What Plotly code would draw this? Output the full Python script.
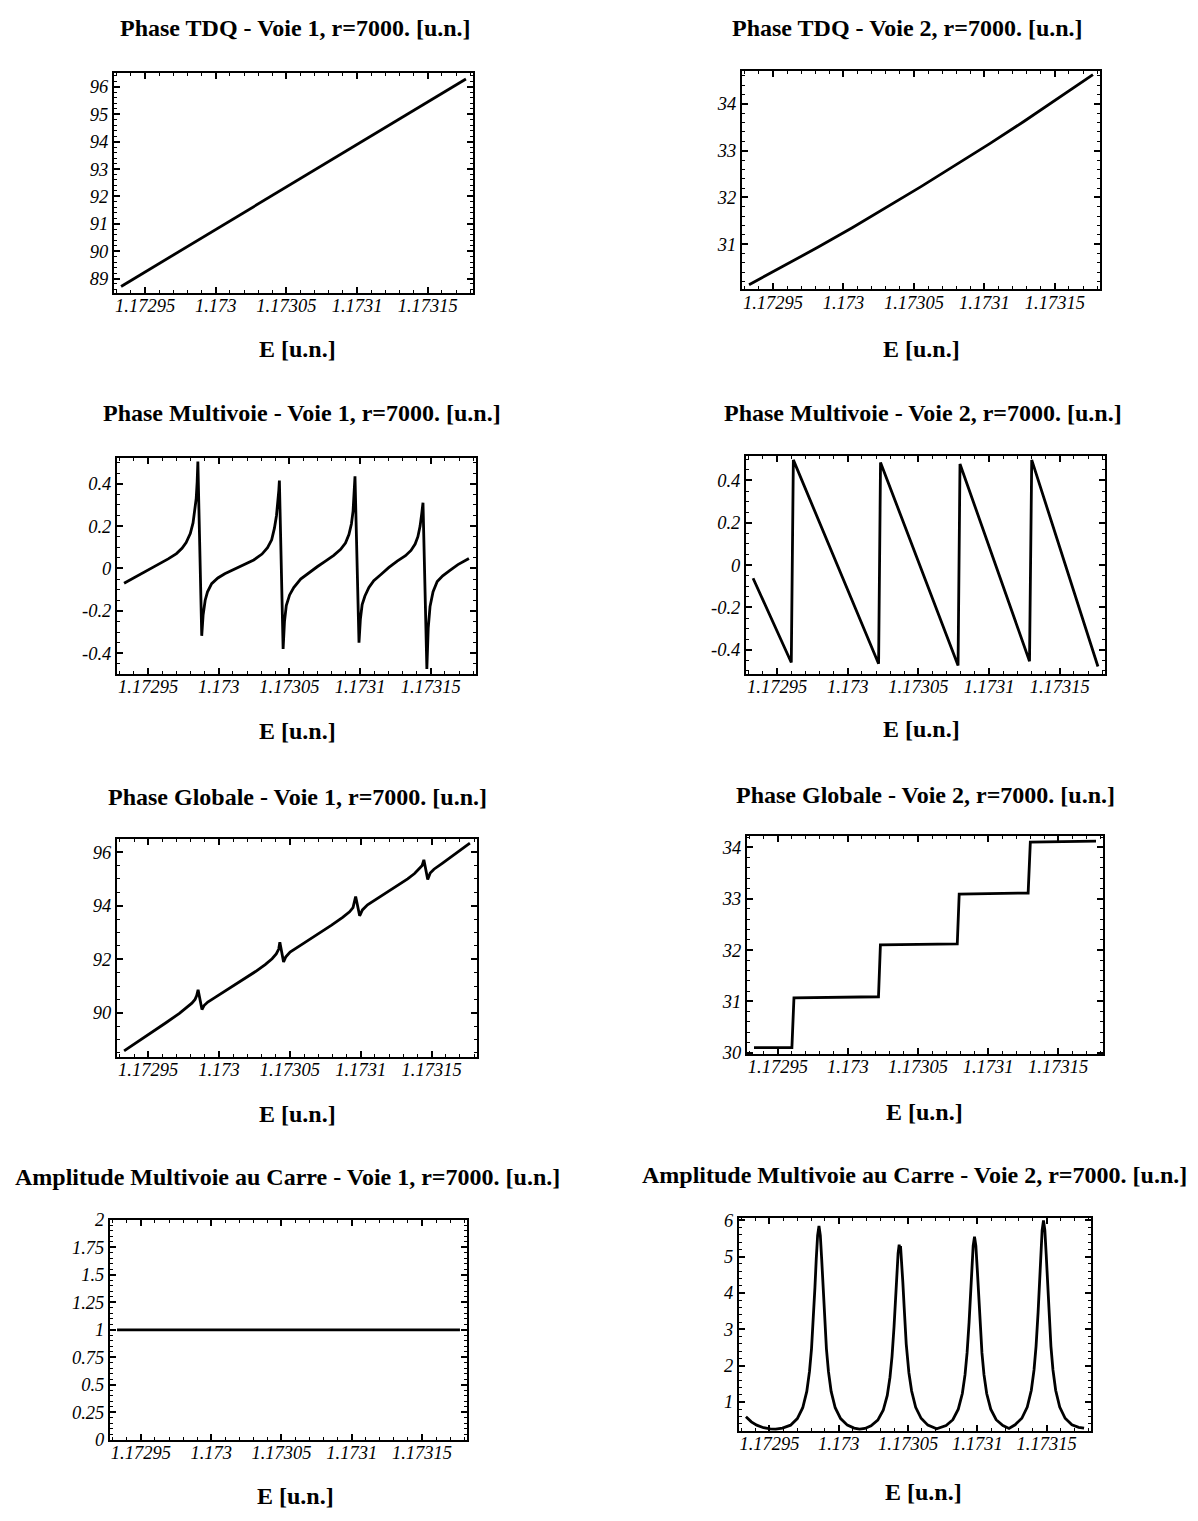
import plotly.graph_objects as go

# ---------------- data ----------------
E_START = 1.172933
E_END = 1.173177
N_STEPS = 250.0          # sample positions k run from 0 to 250 along E
X_RANGE = [1.172928, 1.173182]

X_TICKS = [1.17295, 1.173, 1.17305, 1.1731, 1.17315]
X_TICK_TEXT = ["1.17295", "1.173", "1.17305", "1.1731", "1.17315"]

titles = [
    "Phase TDQ - Voie 1, r=7000. [u.n.]",
    "Phase TDQ - Voie 2, r=7000. [u.n.]",
    "Phase Multivoie - Voie 1, r=7000. [u.n.]",
    "Phase Multivoie - Voie 2, r=7000. [u.n.]",
    "Phase Globale - Voie 1, r=7000. [u.n.]",
    "Phase Globale - Voie 2, r=7000. [u.n.]",
    "Amplitude Multivoie au Carre - Voie 1, r=7000. [u.n.]",
    "Amplitude Multivoie au Carre - Voie 2, r=7000. [u.n.]",
]
x_label = "E [u.n.]"

# Phase TDQ - Voie 1
tdq1_k = [0, 50, 100, 150, 200, 250]
tdq1_v = [88.71, 90.23, 91.74, 93.26, 94.77, 96.29]

# Phase TDQ - Voie 2
tdq2_k = [0, 25, 50, 75, 100, 125, 150, 175, 200, 225, 250]
tdq2_v = [30.13, 30.53, 30.93, 31.35, 31.79, 32.23, 32.69, 33.15, 33.63, 34.13, 34.63]

# Phase Multivoie - Voie 1
mv1_k = [0, 7, 14, 20, 26, 32, 38, 42, 45, 48,
         50, 51.3, 52.3, 53.0, 53.5, 56.3, 57.3, 58.8, 60.5, 63.5,
         68, 73, 80, 87, 94, 100, 104, 107, 109, 110.5,
         111.5, 112.2, 112.6, 115.3, 116.3, 117.6, 120, 123, 128, 134,
         140, 146, 152, 157, 160.5, 163, 164.8, 166, 166.8, 167.4,
         170.3, 171.3, 172.6, 174.6, 177.5, 181, 186, 192, 198, 204,
         208, 211, 213, 214.6, 215.8, 216.7, 219.5, 220.5, 221.8, 224,
         227, 231, 236, 242, 250]
mv1_v = [-0.07, -0.045, -0.016, 0.004, 0.023, 0.045, 0.07, 0.095, 0.122, 0.165,
         0.215, 0.27, 0.33, 0.41, 0.505, -0.318, -0.22, -0.15, -0.11, -0.072,
         -0.045, -0.025, -0.003, 0.018, 0.04, 0.068, 0.098, 0.135, 0.19, 0.25,
         0.31, 0.37, 0.415, -0.38, -0.25, -0.175, -0.125, -0.09, -0.05, -0.02,
         0.008, 0.035, 0.062, 0.09, 0.12, 0.16, 0.21, 0.27, 0.34, 0.435,
         -0.35, -0.24, -0.17, -0.13, -0.09, -0.058, -0.03, 0.005, 0.035, 0.06,
         0.085, 0.115, 0.15, 0.2, 0.26, 0.31, -0.474, -0.28, -0.18, -0.11,
         -0.062, -0.035, -0.01, 0.018, 0.047]

# Phase Multivoie - Voie 2
mv2_k = [0, 27.7, 29.2, 91.0, 92.4, 148.6, 150.0, 200.4, 202.0, 250]
mv2_v = [-0.062, -0.46, 0.497, -0.466, 0.485, -0.474, 0.478, -0.454, 0.497, -0.479]

# Phase Globale - Voie 1
glob1_k = [0, 10, 20, 30, 40, 45, 49, 51.3, 52.5, 53.5,
           56.3, 57.8, 60.5, 65, 75, 85, 95, 102, 107, 110,
           111.8, 112.6, 115.3, 116.8, 120, 130, 140, 150, 158, 163,
           165.5, 167.4, 170.3, 172.3, 176, 185, 195, 205, 210, 213.5,
           215.5, 216.7, 219.5, 221.3, 224, 230, 240, 250]
glob1_v = [88.58, 88.92, 89.27, 89.62, 89.98, 90.18, 90.36, 90.5, 90.64, 90.86,
           90.12, 90.27, 90.40, 90.55, 90.87, 91.2, 91.54, 91.8, 92.02, 92.2,
           92.38, 92.63, 91.9, 92.08, 92.27, 92.6, 92.93, 93.27, 93.56, 93.77,
           93.93, 94.34, 93.62, 93.84, 94.03, 94.33, 94.67, 95.0, 95.2, 95.38,
           95.5, 95.71, 94.98, 95.22, 95.36, 95.58, 95.96, 96.33]

# Phase Globale - Voie 2
glob2_k = [0, 27.7, 29.2, 91.0, 92.4, 148.6, 150.0, 200.4, 202.0, 250]
glob2_v = [30.10, 30.10, 31.07, 31.09, 32.10, 32.12, 33.09, 33.11, 34.10, 34.12]

# Amplitude Multivoie au Carre - Voie 1
amp1_k = [0, 250]
amp1_v = [1.0, 1.0]

# Amplitude Multivoie au Carre - Voie 2
amp2_k = [0, 4, 8, 13, 18, 22, 27, 33, 38, 42,
          45, 47, 48.5, 50, 51, 52, 53, 54, 55, 56,
          57, 58, 59.5, 61, 63, 66, 70, 75, 80, 84,
          88, 92.5, 97.5, 101.5, 104.5, 106.5, 108, 109.5, 110.5, 111.5,
          112.5, 113.3, 113.8, 114.3, 115, 116, 117, 118.5, 120.5, 122.5,
          125.5, 129.5, 134.5, 141, 148, 153, 157, 160, 162, 163.5,
          165, 166, 167, 168, 169, 170, 171, 172, 173, 174.5,
          176, 178, 181, 185, 190, 194.5, 199, 204, 208, 211,
          213, 214.5, 216, 217, 218, 219, 220, 221, 222, 223,
          224, 225.5, 227, 229, 232, 236, 241, 246, 250]
amp2_v = [0.59, 0.45, 0.36, 0.29, 0.26, 0.25, 0.28, 0.36, 0.54, 0.84,
          1.29, 1.84, 2.47, 3.37, 4.14, 4.94, 5.59, 5.85, 5.59, 4.94,
          4.14, 3.37, 2.47, 1.84, 1.29, 0.84, 0.54, 0.36, 0.28, 0.25,
          0.27, 0.34, 0.50, 0.77, 1.18, 1.68, 2.25, 3.07, 3.76, 4.49,
          5.09, 5.33, 5.22, 5.29, 4.95, 4.3, 3.6, 2.6, 1.8, 1.3,
          0.85, 0.55, 0.36, 0.26, 0.35, 0.51, 0.80, 1.23, 1.75, 2.35,
          3.20, 3.93, 4.68, 5.30, 5.55, 5.30, 4.68, 3.93, 3.20, 2.35,
          1.75, 1.23, 0.80, 0.51, 0.35, 0.27, 0.37, 0.55, 0.86, 1.32,
          1.88, 2.53, 3.46, 4.24, 5.06, 5.73, 6.0, 5.73, 5.06, 4.24,
          3.46, 2.53, 1.88, 1.32, 0.86, 0.55, 0.37, 0.30, 0.28]

# y tick labels
y_ticks_tdq1 = [89, 90, 91, 92, 93, 94, 95, 96]
y_ticks_tdq2 = [31, 32, 33, 34]
y_ticks_mv = [-0.4, -0.2, 0, 0.2, 0.4]
y_ticks_mv_text = ["-0.4", "-0.2", "0", "0.2", "0.4"]
y_ticks_glob1 = [90, 92, 94, 96]
y_ticks_glob2 = [30, 31, 32, 33, 34]
y_ticks_amp1 = [0, 0.25, 0.5, 0.75, 1, 1.25, 1.5, 1.75, 2]
y_ticks_amp1_text = ["0", "0.25", "0.5", "0.75", "1", "1.25", "1.5", "1.75", "2"]
y_ticks_amp2 = [1, 2, 3, 4, 5, 6]

# ---------------- layout / style ----------------
PAGE_MARGIN = 8                      # default body margin of the html page
W, H = 1198 - 2 * PAGE_MARGIN, 1521 - 2 * PAGE_MARGIN
E_STEP = (E_END - E_START) / N_STEPS


def fx(px):
    return (px - PAGE_MARGIN) / W


def fy(py):
    return 1 - (py - PAGE_MARGIN) / H


panels = [
    dict(k=tdq1_k, v=tdq1_v, yr=[88.46, 96.5], yt=y_ticks_tdq1, ytt=None, ymin=0.2,
         px=(114, 473), py=(64, 287), tpos=(295, 18), lpos=(297, 343)),
    dict(k=tdq2_k, v=tdq2_v, yr=[30.03, 34.70], yt=y_ticks_tdq2, ytt=None, ymin=0.2,
         px=(742, 1100), py=(62, 283), tpos=(908, 18), lpos=(922, 343)),
    dict(k=mv1_k, v=mv1_v, yr=[-0.499, 0.521], yt=y_ticks_mv, ytt=y_ticks_mv_text, ymin=0.05,
         px=(117, 476), py=(454, 673), tpos=(302, 408), lpos=(297, 731)),
    dict(k=mv2_k, v=mv2_v, yr=[-0.515, 0.515], yt=y_ticks_mv, ytt=y_ticks_mv_text, ymin=0.05,
         px=(746, 1105), py=(452, 673), tpos=(923, 408), lpos=(922, 729)),
    dict(k=glob1_k, v=glob1_v, yr=[88.35, 96.49], yt=y_ticks_glob1, ytt=None, ymin=0.5,
         px=(117, 477), py=(840, 1061), tpos=(297, 797), lpos=(297, 1119)),
    dict(k=glob2_k, v=glob2_v, yr=[29.975, 34.22], yt=y_ticks_glob2, ytt=None, ymin=0.2,
         px=(747, 1103), py=(837, 1058), tpos=(925, 795), lpos=(924, 1117)),
    dict(k=amp1_k, v=amp1_v, yr=[0, 2], yt=y_ticks_amp1, ytt=y_ticks_amp1_text, ymin=0.05,
         px=(110, 467), py=(1226, 1449), tpos=(287, 1183), lpos=(295, 1506)),
    dict(k=amp2_k, v=amp2_v, yr=[0.2, 6.07], yt=y_ticks_amp2, ytt=None, ymin=0.2,
         px=(739, 1091), py=(1224, 1440), tpos=(915, 1181), lpos=(923, 1502)),
]

TICKFONT = dict(family="Liberation Serif", size=18.5, color="black", style="italic")
TITLEFONT = dict(family="Liberation Serif", size=24, color="black", weight="bold")

fig = go.Figure()
layout = dict(
    width=W, height=H, margin=dict(l=0, r=0, t=0, b=0),
    paper_bgcolor="white", plot_bgcolor="white", showlegend=False,
    annotations=[],
)

for i, p in enumerate(panels, start=1):
    sfx = "" if i == 1 else str(i)
    xa, ya = "x" + sfx, "y" + sfx
    xs = [E_START + kk * E_STEP for kk in p["k"]]
    fig.add_trace(go.Scatter(x=xs, y=p["v"], mode="lines",
                             line=dict(color="black", width=2.8),
                             xaxis=xa, yaxis=ya, hoverinfo="skip"))
    x0, x1 = p["px"]
    y0, y1 = p["py"]
    layout["xaxis" + sfx] = dict(
        domain=[fx(x0), fx(x1)], range=X_RANGE, anchor=ya,
        tickmode="array", tickvals=X_TICKS, ticktext=X_TICK_TEXT,
        ticks="inside", ticklen=6, tickwidth=1.5, tickcolor="black",
        showline=True, linecolor="black", linewidth=2, mirror="allticks",
        showgrid=False, zeroline=False, tickfont=TICKFONT,
        ticklabelstandoff=-5,
        minor=dict(ticks="inside", ticklen=3, tickwidth=1, tickcolor="black",
                   tickmode="linear", tick0=1.17295, dtick=0.00001, showgrid=False),
    )
    yax = dict(
        domain=[fy(y1), fy(y0)], range=p["yr"], anchor=xa,
        tickmode="array", tickvals=p["yt"],
        ticks="inside", ticklen=6, tickwidth=1.5, tickcolor="black",
        showline=True, linecolor="black", linewidth=2, mirror="allticks",
        showgrid=False, zeroline=False, tickfont=TICKFONT,
        minor=dict(ticks="inside", ticklen=3, tickwidth=1, tickcolor="black",
                   tickmode="linear", tick0=0, dtick=p["ymin"], showgrid=False),
    )
    if p["ytt"] is not None:
        yax["ticktext"] = p["ytt"]
    layout["yaxis" + sfx] = yax

    tx, ty = p["tpos"]
    layout["annotations"].append(dict(
        text=titles[i - 1], x=fx(tx), y=fy(ty), xref="paper", yref="paper",
        xanchor="center", yanchor="middle", showarrow=False, font=TITLEFONT))
    lx, ly = p["lpos"]
    layout["annotations"].append(dict(
        text=x_label, x=fx(lx), y=fy(ly), xref="paper", yref="paper",
        xanchor="center", yanchor="middle", showarrow=False, font=TITLEFONT))

fig.update_layout(**layout)
fig.write_html("out.html", config={"displayModeBar": False})
